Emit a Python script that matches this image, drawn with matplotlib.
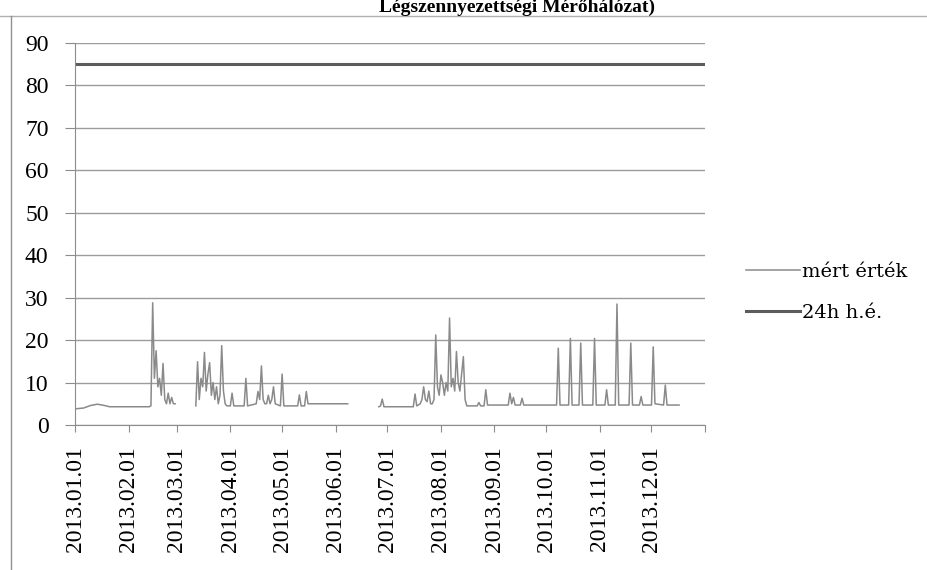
import matplotlib
matplotlib.use("Agg")
import matplotlib.pyplot as plt
import matplotlib.dates as mdates
from matplotlib.lines import Line2D
import numpy as np
import pandas as pd

# measured daily values (nan = no data)
measured_dates = [
    "2013-01-01", "2013-01-06", "2013-01-10", "2013-01-14", "2013-01-18", "2013-01-21",
    "2013-02-13", "2013-02-14", "2013-02-15", "2013-02-16", "2013-02-17", "2013-02-18",
    "2013-02-19", "2013-02-20", "2013-02-21", "2013-02-22", "2013-02-23", "2013-02-24",
    "2013-02-25", "2013-02-26", "2013-02-27", "2013-02-28",
    "2013-03-05",
    "2013-03-12", "2013-03-13", "2013-03-14", "2013-03-15", "2013-03-16", "2013-03-17",
    "2013-03-18", "2013-03-19", "2013-03-20", "2013-03-21", "2013-03-22", "2013-03-23",
    "2013-03-24", "2013-03-25", "2013-03-26", "2013-03-27", "2013-03-28", "2013-03-29",
    "2013-03-30", "2013-04-01", "2013-04-02", "2013-04-03", "2013-04-09", "2013-04-10",
    "2013-04-11", "2013-04-16", "2013-04-17", "2013-04-18", "2013-04-19", "2013-04-20",
    "2013-04-21", "2013-04-22", "2013-04-23", "2013-04-24", "2013-04-25", "2013-04-26",
    "2013-04-27", "2013-04-30", "2013-05-01", "2013-05-02", "2013-05-10", "2013-05-11",
    "2013-05-12", "2013-05-14", "2013-05-15", "2013-05-16", "2013-06-06", "2013-06-08",
    "2013-06-15",
    "2013-06-26", "2013-06-27", "2013-06-28", "2013-06-29", "2013-07-16", "2013-07-17",
    "2013-07-18", "2013-07-20", "2013-07-21", "2013-07-22", "2013-07-23", "2013-07-24",
    "2013-07-25", "2013-07-26", "2013-07-27", "2013-07-28", "2013-07-29", "2013-07-30",
    "2013-07-31", "2013-08-01", "2013-08-02", "2013-08-03", "2013-08-04", "2013-08-05",
    "2013-08-06", "2013-08-07", "2013-08-08", "2013-08-09", "2013-08-10", "2013-08-11",
    "2013-08-12", "2013-08-13", "2013-08-14", "2013-08-15", "2013-08-16", "2013-08-22",
    "2013-08-23", "2013-08-24", "2013-08-26", "2013-08-27", "2013-08-28", "2013-09-09",
    "2013-09-10", "2013-09-11", "2013-09-12", "2013-09-13", "2013-09-16", "2013-09-17",
    "2013-09-18", "2013-10-07", "2013-10-08", "2013-10-09", "2013-10-14", "2013-10-15",
    "2013-10-16", "2013-10-20", "2013-10-21", "2013-10-22", "2013-10-28", "2013-10-29",
    "2013-10-30", "2013-11-04", "2013-11-05", "2013-11-06", "2013-11-10", "2013-11-11",
    "2013-11-12", "2013-11-18", "2013-11-19", "2013-11-20", "2013-11-24", "2013-11-25",
    "2013-11-26", "2013-12-01", "2013-12-02", "2013-12-03", "2013-12-08", "2013-12-09",
    "2013-12-10", "2013-12-17",
]
measured_values = [
    3.8, 4.0, 4.6, 4.9, 4.6, 4.3,
    4.3, 4.5, 28.8, 11, 17.5, 9,
    11, 7, 14.5, 6, 5, 7.5,
    5, 6.5, 5, 5,
    np.nan,
    4.5, 14.9, 6, 11, 9, 17.1,
    8, 12, 14.7, 7, 10, 6,
    9, 5, 7, 18.7, 8, 5,
    4.5, 4.5, 7.5, 4.5, 4.5, 11,
    4.5, 5, 7.9, 6, 13.9, 6,
    5, 5, 7, 5, 6, 9,
    5, 4.5, 12, 4.5, 4.5, 7.1,
    4.5, 4.5, 7.9, 5, 5, 5,
    np.nan,
    4.3, 4.5, 6.1, 4.3, 4.3, 7.3,
    4.5, 5, 6, 9, 6, 5.5,
    8, 5, 5, 6, 21.2, 9,
    7, 11.8, 10, 7, 10, 8,
    25.2, 9, 11, 8, 17.3, 10,
    8, 12, 16.1, 6, 4.5, 4.5,
    5.3, 4.5, 4.5, 8.3, 4.7, 4.7,
    7.5, 5, 6.5, 4.7, 4.7, 6.3,
    4.7, 4.7, 18.1, 4.7, 4.7, 20.4,
    4.7, 4.7, 19.3, 4.7, 4.7, 20.4,
    4.7, 4.7, 8.3, 4.7, 4.7, 28.5,
    4.7, 4.7, 19.3, 4.7, 4.7, 6.7,
    4.7, 4.7, 18.4, 5, 4.7, 9.4,
    4.7, 4.7,
]

# 24h limit value
limit_dates = ["2013-01-01", "2013-12-31"]
limit_values = [85, 85]

y_ticks = [0, 10, 20, 30, 40, 50, 60, 70, 80, 90]
series_labels = ["mért érték", "24h h.é."]
title = "Légszennyezettségi Mérőhálózat)"

W, H = 928, 570
fig = plt.figure(figsize=(W / 100, H / 100), dpi=100)
ax = fig.add_axes([75 / W, 1 - 425 / H, 630 / W, 382 / H])

mx = pd.to_datetime(measured_dates)
lx = pd.to_datetime(limit_dates)
ax.plot(mx, np.array(measured_values, dtype=float), color="#8a8a8a", lw=1.1)
ax.plot(lx, limit_values, color="#5c5c5c", lw=2.2)

ax.set_ylim(0, 90)
ax.set_xlim(pd.Timestamp("2013-01-01"), pd.Timestamp("2014-01-01"))
ax.set_yticks(y_ticks)
ax.yaxis.grid(True, color="#9c9c9c", lw=1)
ax.set_axisbelow(True)

ax.xaxis.set_major_locator(mdates.MonthLocator())
for s in ["top", "right"]:
    ax.spines[s].set_visible(False)
for s in ["left", "bottom"]:
    ax.spines[s].set_color("#8c8c8c")
ax.tick_params(axis="y", length=7, color="#8c8c8c", pad=12,
               labelsize=17, labelfontfamily="Liberation Serif")
ax.tick_params(axis="x", length=5, color="#8c8c8c", pad=10, rotation=90,
               labelsize=17, labelfontfamily="Liberation Serif")
# last tick (2014.01.01) has no label
xt = ax.get_xticks()
labels = [mdates.num2date(t).strftime("%Y.%m.%d") if i < 12 else ""
          for i, t in enumerate(xt)]
ax.set_xticks(xt)
ax.set_xticklabels(labels)

handles = [Line2D([], [], color="#8a8a8a", lw=1.1),
           Line2D([], [], color="#5c5c5c", lw=2.2)]
fig.legend(handles, series_labels, loc="upper left",
           bbox_to_anchor=(736 / W, 1 - 253 / H), frameon=False,
           handlelength=2.8, handletextpad=0.1, labelspacing=1.2,
           borderpad=0, prop={"family": "DejaVu Serif", "size": 14})

fig.text(517 / W, 1 - 12 / H, title, ha="center", va="baseline",
         fontsize=14, fontweight="bold", family="Liberation Serif")

# outer chart frame
fig.add_artist(Line2D([0, 1], [1 - 16 / H, 1 - 16 / H], color="#b0b0b0", lw=1))
fig.add_artist(Line2D([11 / W, 11 / W], [0, 1 - 16 / H], color="#909090", lw=1))

fig.savefig("out.png", dpi=100)
